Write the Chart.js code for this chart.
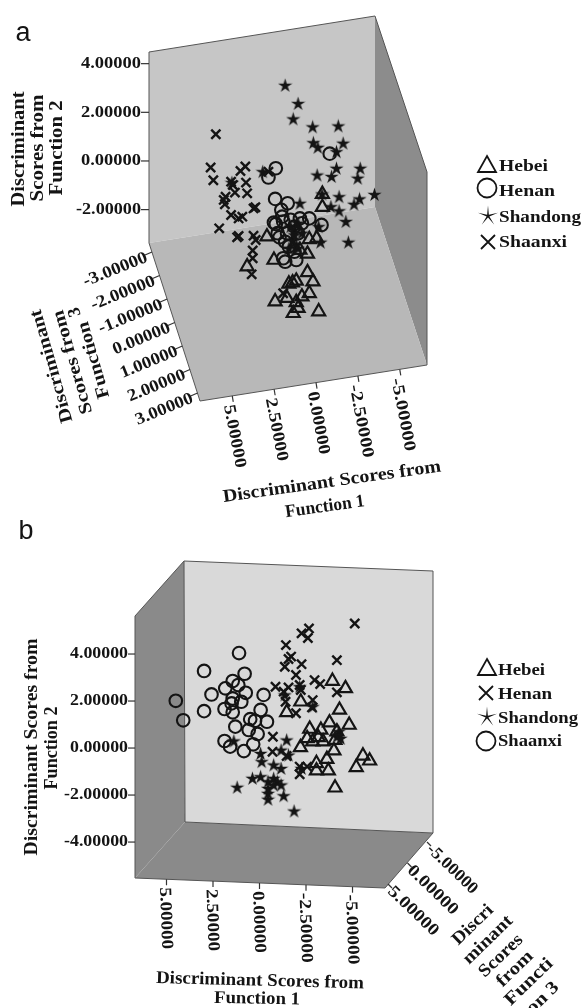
<!DOCTYPE html>
<html>
<head>
<meta charset="utf-8">
<title>Discriminant scores</title>
<script src="https://cdn.jsdelivr.net/npm/chart.js@4/dist/chart.umd.min.js"></script>
<style>
  html, body { margin: 0; padding: 0; background: #fff; }
  canvas { position: absolute; left: 0; filter: blur(0.45px); }
  #chartA { top: 0; }
  #chartB { top: 520px; }
</style>
</head>
<body>
<canvas id="chartA" width="583" height="530"></canvas>
<canvas id="chartB" width="583" height="488"></canvas>
<script>
// panel a: [function 1, function 2]
const hebeiA = [[-.38,-1.36],[-.38,-1.9],[2.93,-3.11],[.4,-3.22],[-.04,-3.18],[2.51,-4.07],[.51,-3.82],[.96,-3.66],[4.11,-4.34],[.51,-4.58],[1.18,-4.93],[1.62,-5.05],[1.4,-5],[.18,-4.96],[.4,-5.44],[.84,-5.58],[1.73,-5.64],[2.44,-5.78],[1.18,-5.81],[1.07,-6.05],[1.36,-6.26],[-.16,-6.19]];
const henanA = [[2.4,-.3],[2.84,-.68],[-.82,.3],[2.44,-1.56],[1.69,-1.74],[2.07,-2.01],[2.02,-2.29],[2.51,-2.53],[1.96,-2.49],[1.51,-2.42],[.96,-2.36],[.4,-2.36],[-.33,-2.63],[2.29,-2.97],[1.73,-2.97],[1.29,-2.7],[.84,-2.56],[1.84,-3.32],[1.62,-3.52],[1.96,-4],[1.84,-4.14],[1.18,-4.07],[1.29,-3.73],[1.07,-2.97],[2.4,-2.59],[2.18,-3.14]];
const shandongA = [[1.84,3.11],[1.07,2.36],[1.36,1.73],[.2,1.4],[-1.33,1.44],[.16,.75],[-.11,.56],[-1.62,.73],[-1.22,.38],[-1.22,-.3],[-2.64,-.3],[-.07,-.58],[-.93,-.64],[-2.49,-.71],[-.36,-1.36],[-1.38,-1.47],[-2.6,-1.56],[-3.49,-1.38],[-2.27,-1.78],[.96,-1.74],[-.89,-1.88],[-1.38,-2.05],[-1.78,-2.49],[-1.93,-3.34],[-.16,-2.7],[-.27,-3.34],[3.18,-.44],[5.02,-.89],[1.29,-2.84],[1.18,-3.45],[1.29,-3.04],[1.4,-3.27],[1.07,-3.59],[1.51,-2.7],[.84,-2.97],[1.07,-2.56],[1.62,-3.59]];
const shaanxiA = [[5.98,1.1],[6.29,-.27],[6.13,-.79],[4.22,-.23],[4.51,-.41],[5.07,-.85],[4.96,-.99],[4.18,-.89],[4.11,-1.33],[4.84,-1.3],[5.4,-1.47],[5.51,-1.6],[5.44,-1.78],[5.07,-2.22],[4.62,-2.36],[4.4,-2.29],[3.73,-1.95],[3.62,-1.9],[5.78,-2.77],[4.62,-3.08],[4.71,-3.14],[3.73,-3.07],[3.6,-3.25],[3.78,-3.68],[3.78,-4],[3.84,-4.66],[1.96,-5.44],[2.84,-.44]];

// panel b
const hebeiB = [[-3.92,2.85],[-4.62,2.54],[-2.22,1.97],[-1.46,1.52],[-4.3,1.62],[-3.76,1.08],[-4.82,.98],[-2.7,.81],[-3.3,.77],[-2.56,.41],[-3.16,.45],[-2.86,.27],[-3.42,.27],[-4.16,.7],[-4.06,.34],[-4,-.11],[-2.2,.03],[-3.62,-.47],[-3.06,-.65],[-5.56,-.33],[-5.92,-.54],[-5.2,-.82],[-3.06,-.96],[-3.7,-.96],[-4.06,-1.69]];
const henanB = [[-5.12,5.3],[-2.66,5.09],[-2.26,4.88],[-2.6,4.68],[-1.42,4.38],[-1.7,3.89],[-1.56,3.79],[-2.26,3.57],[-1.36,3.46],[-4.16,3.74],[-1.96,3.11],[-2.96,2.89],[-3.26,2.72],[-.86,2.61],[-1.56,2.58],[-1.3,2.4],[-2.16,2.68],[-2.22,2.47],[-4.16,2.37],[-2.86,2.04],[-2.82,1.73],[-1.4,1.97],[-1.96,1.48],[-.72,.48],[-.7,-.16],[-1.46,-.34],[-2.16,-.79],[-2.16,-1.12],[-2.56,-.79]];
const shandongB = [[1.2,-1.67],[1.38,.3],[-.06,-.23],[-.12,-.58],[-1.46,.34],[-1.16,-.09],[-1.56,-.3],[-.76,-.72],[-1.16,-.87],[.38,-1.29],[-.06,-1.22],[-.46,-1.43],[-.76,-1.29],[-.96,-1.43],[-.46,-1.72],[-.76,-1.57],[-.46,-1.93],[-.46,-2.18],[-1.3,-2.03],[-1.16,-1.57],[-1.86,-2.68],[-2.16,2.61],[-2.86,1.76],[-4.26,.7],[-4.16,.48],[-4.36,.41],[-2.26,-.87],[-1.36,2.26]];
const shaanxiB = [[4.5,2.01],[4.1,1.18],[2.98,1.57],[2.98,3.28],[1.1,4.04],[2.58,2.28],[1.84,2.54],[1.44,2.85],[.8,3.16],[1.14,2.68],[.74,2.35],[1.44,2.11],[.98,1.97],[1.88,1.66],[1.5,1.9],[1.44,1.52],[-.22,2.26],[-.06,1.62],[.5,1.23],[.24,1.16],[-.4,1.12],[1.3,.91],[.58,.77],[.1,.6],[.34,.16],[1.88,.3],[1.58,.06],[.84,-.13]];

const yTicksA = [4, 2, 0, -2];
const xTicksA = [5, 2.5, 0, -2.5, -5];
const zTicksA = [-3, -2, -1, 0, 1, 2, 3];
const yTicksB = [4, 2, 0, -2, -4];
const xTicksB = [5, 2.5, 0, -2.5, -5];
const zTicksB = [5, 0, -5];

const INK = '#141414';
const SERIF = '"Liberation Serif", serif';

function starPath(ctx, cx, cy, r, inner) {
  ctx.beginPath();
  for (let i = 0; i < 10; i++) {
    const a = -Math.PI / 2 + i * Math.PI / 5;
    const rr = i % 2 ? r * inner : r;
    ctx.lineTo(cx + Math.cos(a) * rr, cy + Math.sin(a) * rr);
  }
  ctx.closePath();
}

function makeStar(size) {
  const c = document.createElement('canvas');
  c.width = size;
  c.height = size;
  const ctx = c.getContext('2d');
  ctx.fillStyle = INK;
  starPath(ctx, size / 2, size / 2 + 0.5, size / 2, 0.36);
  ctx.fill();
  return c;
}
const starImg = makeStar(15);

// text squeezed or stretched to the width it has in the picture
function label(ctx, text, x, y, deg, width, align, size) {
  ctx.save();
  ctx.translate(x, y);
  ctx.rotate(deg * Math.PI / 180);
  ctx.font = `bold ${size || 18}px ${SERIF}`;
  ctx.textAlign = align || 'center';
  ctx.textBaseline = 'middle';
  ctx.fillStyle = INK;
  const w = ctx.measureText(text).width;
  ctx.scale(width / w, 1);
  ctx.fillText(text, 0, 0);
  ctx.restore();
}

function panelLetter(ctx, text, x, y) {
  ctx.font = '27px "Liberation Sans", sans-serif';
  ctx.textAlign = 'center';
  ctx.textBaseline = 'middle';
  ctx.fillStyle = INK;
  ctx.fillText(text, x, y);
}

function poly(ctx, pts, fill) {
  ctx.beginPath();
  pts.forEach((p) => ctx.lineTo(p[0], p[1]));
  ctx.closePath();
  ctx.fillStyle = fill;
  ctx.fill();
}

function outline(ctx, pts) {
  ctx.beginPath();
  pts.forEach((p) => ctx.lineTo(p[0], p[1]));
  ctx.strokeStyle = '#555';
  ctx.lineWidth = 1;
  ctx.stroke();
}

function tick(ctx, x1, y1, x2, y2) {
  ctx.beginPath();
  ctx.moveTo(x1, y1);
  ctx.lineTo(x2, y2);
  ctx.strokeStyle = '#333';
  ctx.lineWidth = 1.2;
  ctx.stroke();
}

function legendSymbol(ctx, kind, x, y) {
  ctx.strokeStyle = INK;
  ctx.fillStyle = INK;
  ctx.lineWidth = 1.8;
  ctx.beginPath();
  if (kind === 'triangle') {
    ctx.moveTo(x, y - 8);
    ctx.lineTo(x + 9, y + 8);
    ctx.lineTo(x - 9, y + 8);
    ctx.closePath();
    ctx.stroke();
  } else if (kind === 'circle') {
    ctx.arc(x, y, 9.5, 0, Math.PI * 2);
    ctx.stroke();
  } else if (kind === 'cross') {
    ctx.moveTo(x - 7, y - 7);
    ctx.lineTo(x + 7, y + 7);
    ctx.moveTo(x + 7, y - 7);
    ctx.lineTo(x - 7, y + 7);
    ctx.stroke();
  } else {
    starPath(ctx, x, y, 10.5, 0.14);
    ctx.fill();
  }
}

const panelAPlugin = {
  id: 'panelA',
  beforeDatasetsDraw(chart) {
    const { ctx, scales } = chart;
    ctx.save();
    poly(ctx, [[149, 52], [375, 16], [375, 207], [149, 243]], '#c6c6c6');
    poly(ctx, [[375, 16], [427, 172], [427, 365], [375, 207]], '#8c8c8c');
    poly(ctx, [[149, 243], [375, 207], [427, 365], [200, 401]], '#b8b8b8');
    outline(ctx, [[149, 243], [149, 52], [375, 16], [427, 172], [427, 365], [200, 401], [149, 243]]);

    yTicksA.forEach((v) => {
      const py = scales.y.getPixelForValue(v);
      tick(ctx, 141, py, 149, py);
      label(ctx, v.toFixed(5), 141, py, 0, v < 0 ? 65 : 60, 'right', 17);
    });
    xTicksA.forEach((v) => {
      const px = scales.x.getPixelForValue(v);
      const py = 401 - (px - 200) * 36 / 227;
      tick(ctx, px, py, px + 1, py + 6);
      label(ctx, v.toFixed(5), px - 4, py + 9, 79, v < 0 ? 74 : 64, 'left', 17);
    });
    zTicksA.forEach((v) => {
      const t = (v + 3) / 6;
      const ex = 152 + t * 45.6;
      const ey = 252 + t * 141;
      tick(ctx, ex, ey, ex - 7, ey + 3);
      label(ctx, v.toFixed(5), ex - 5, ey + 5, -22, v < 0 ? 68 : 61, 'right', 17);
    });

    panelLetter(ctx, 'a', 23, 34);

    label(ctx, 'Discriminant', 19, 149, -90, 115);
    label(ctx, 'Scores from', 38, 148, -90, 107);
    label(ctx, 'Function 2', 57, 148, -90, 95);

    label(ctx, 'Discriminant', 52, 366, -106, 117);
    label(ctx, 'Scores from', 73, 362, -106, 107);
    label(ctx, 'Function', 94, 360, -106, 79);
    label(ctx, '3', 75, 312, -106, 9);

    label(ctx, 'Discriminant Scores from', 332, 482, -8, 220);
    label(ctx, 'Function 1', 325, 507, -8, 80);

    legendSymbol(ctx, 'triangle', 487, 164);
    label(ctx, 'Hebei', 499, 167, 0, 49, 'left', 17);
    legendSymbol(ctx, 'circle', 487, 188);
    label(ctx, 'Henan', 499, 192, 0, 56, 'left', 17);
    legendSymbol(ctx, 'star', 488, 216);
    label(ctx, 'Shandong', 499, 218, 0, 82, 'left', 17);
    legendSymbol(ctx, 'cross', 488, 242);
    label(ctx, 'Shaanxi', 499, 243, 0, 68, 'left', 17);
    ctx.restore();
  },
};

const panelBPlugin = {
  id: 'panelB',
  beforeDatasetsDraw(chart) {
    const { ctx, scales } = chart;
    const oy = 520; // canvas b starts here on the page
    ctx.save();
    ctx.translate(0, -oy);
    poly(ctx, [[135, 616], [184, 561], [185, 822], [135, 878]], '#8a8a8a');
    poly(ctx, [[135, 878], [185, 822], [433, 833], [385, 888]], '#8a8a8a');
    poly(ctx, [[184, 561], [433, 571], [433, 833], [185, 822]], '#d9d9d9');
    outline(ctx, [[135, 878], [135, 616], [184, 561], [433, 571], [433, 833], [385, 888], [135, 878]]);
    outline(ctx, [[433, 833], [185, 822], [184, 561]]);

    yTicksB.forEach((v) => {
      const py = scales.y.getPixelForValue(v) + oy;
      tick(ctx, 128, py, 135, py);
      label(ctx, v.toFixed(5), 128, py, 0, v < 0 ? 64 : 58, 'right', 17);
    });
    xTicksB.forEach((v) => {
      const px = scales.x.getPixelForValue(v);
      const py = 878 + (px - 135) * 10 / 250;
      tick(ctx, px, py, px, py + 6);
      label(ctx, v.toFixed(5), px - 2, py + 8, 88, v < 0 ? 70 : 62, 'left', 17);
    });
    zTicksB.forEach((v) => {
      const t = (5 - v) / 10;
      const ex = 388 + t * 39;
      const ey = 884 - t * 42;
      tick(ctx, ex, ey, ex + 4, ey + 4);
      label(ctx, v.toFixed(5), ex + 2, ey + 5, 44, 64, 'left', 17);
    });

    panelLetter(ctx, 'b', 26, 532);

    label(ctx, 'Discriminant Scores from', 32, 747, -90, 217);
    label(ctx, 'Function 2', 52, 748, -90, 83);
    label(ctx, 'Discriminant Scores from', 260, 981, 1.5, 208);
    label(ctx, 'Function 1', 257, 999, 1, 86);

    label(ctx, 'Discri', 473, 925, -44, 50);
    label(ctx, 'minant', 488, 940, -44, 62);
    label(ctx, 'Scores', 501, 956, -44, 54);
    label(ctx, 'from', 515, 969, -44, 44);
    label(ctx, 'Functi', 529, 982, -44, 60);
    label(ctx, 'on 3', 543, 998, -44, 38);

    legendSymbol(ctx, 'triangle', 487, 667);
    label(ctx, 'Hebei', 498, 671, 0, 47, 'left', 17);
    legendSymbol(ctx, 'cross', 486, 693);
    label(ctx, 'Henan', 498, 695, 0, 54, 'left', 17);
    legendSymbol(ctx, 'star', 487, 717);
    label(ctx, 'Shandong', 498, 719, 0, 80, 'left', 17);
    legendSymbol(ctx, 'circle', 486, 741);
    label(ctx, 'Shaanxi', 498, 742, 0, 64, 'left', 17);
    ctx.restore();
  },
};

function makeDataset(name, rows, style) {
  const base = {
    label: name,
    data: rows.map((r) => ({ x: r[0], y: r[1] })),
    borderColor: INK,
    backgroundColor: 'rgba(0,0,0,0)',
    clip: false,
  };
  if (style === 'triangle') return { ...base, pointStyle: 'triangle', pointRadius: 7.5, borderWidth: 2.2 };
  if (style === 'circle') return { ...base, pointStyle: 'circle', pointRadius: 6.3, borderWidth: 2.1 };
  if (style === 'cross') return { ...base, pointStyle: 'crossRot', pointRadius: 6.5, borderWidth: 2.4 };
  return { ...base, pointStyle: starImg, pointRadius: 7.5 };
}

function makeChart(id, datasets, plugin, xr, yr) {
  return new Chart(document.getElementById(id), {
    type: 'scatter',
    data: { datasets },
    plugins: [plugin],
    options: {
      responsive: false,
      animation: false,
      layout: { padding: 0, autoPadding: false },
      plugins: { legend: { display: false }, tooltip: { enabled: false } },
      scales: {
        x: { type: 'linear', display: false, reverse: true, min: xr[0], max: xr[1] },
        y: { type: 'linear', display: false, min: yr[0], max: yr[1] },
      },
    },
  });
}

makeChart('chartA', [
  makeDataset('Hebei', hebeiA, 'triangle'),
  makeDataset('Henan', henanA, 'circle'),
  makeDataset('Shandong', shandongA, 'star'),
  makeDataset('Shaanxi', shaanxiA, 'cross'),
], panelAPlugin, [-15.94, 18.866], [-15.17, 6.617]);

makeChart('chartB', [
  makeDataset('Hebei', hebeiB, 'triangle'),
  makeDataset('Henan', henanB, 'cross'),
  makeDataset('Shandong', shandongB, 'star'),
  makeDataset('Shaanxi', shaanxiB, 'circle'),
], panelBPlugin, [-17.39, 13.95], [-11.06, 9.702]);
</script>
</body>
</html>
